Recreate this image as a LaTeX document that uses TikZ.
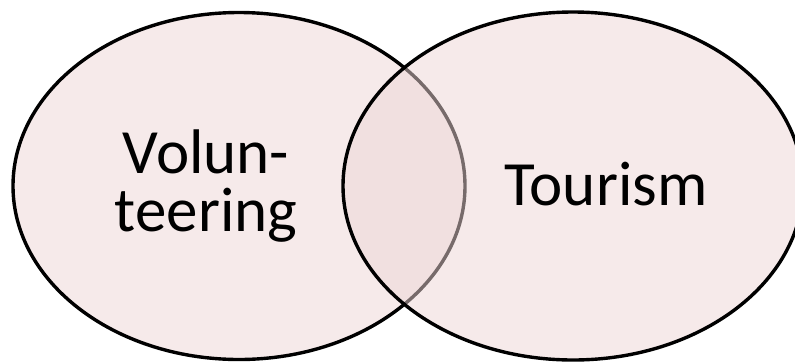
\documentclass[tikz,border=0pt]{standalone}
\usepackage{fontspec}
\setmainfont{Carlito}
\usetikzlibrary{shapes.geometric}
\definecolor{vennpink}{RGB}{238,215,215}
\tikzset{
  venn/.style={ellipse, draw=black, line width=3.4pt, fill=vennpink, fill opacity=0.5, draw opacity=1, inner sep=0pt},
  label/.style={font=\fontsize{63}{58}\selectfont, text=black, inner sep=0pt, align=center}
}
\begin{document}
\begin{tikzpicture}[x=1pt,y=-1pt]
\useasboundingbox (0,0) rectangle (795,362);
\fill[white] (0,0) rectangle (795,362);
\node[venn, minimum width=452pt, minimum height=347pt] (left) at (239,186) {};
\node[venn, minimum width=460pt, minimum height=348pt] (right) at (573,186) {};
\node[label] (vol) at (206,186) {Volun-\\teering};
\node[label, anchor=base] (tour) at (606,205) {Tourism};
\end{tikzpicture}
\end{document}
